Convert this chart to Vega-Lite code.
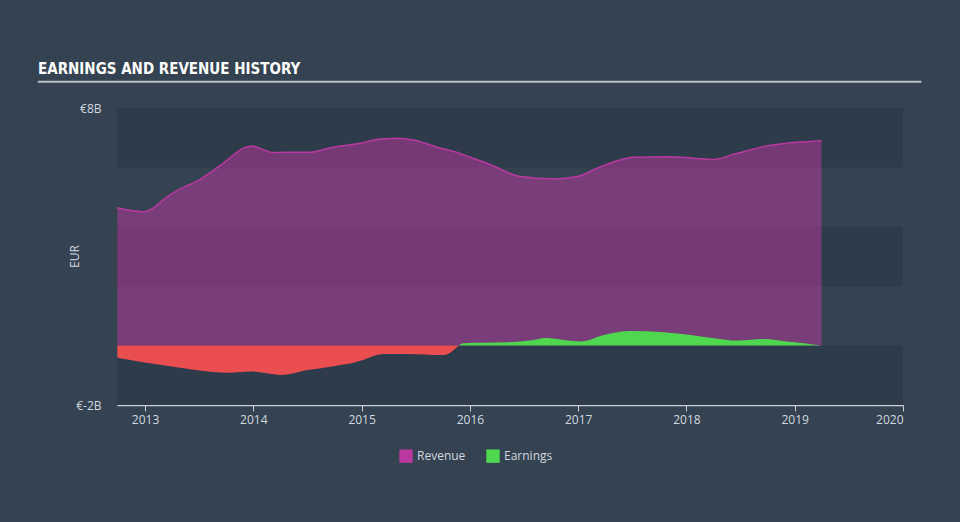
{
  "$schema": "https://vega.github.io/schema/vega-lite/v6.json",
  "width": 786,
  "height": 297,
  "autosize": {"type": "none"},
  "padding": {"left": 117, "top": 108, "right": 57, "bottom": 117},
  "background": "#344252",
  "config": {
    "view": {"stroke": null},
    "font": "Open Sans",
    "axis": {"labelColor": "#d3d8de", "titleColor": "#d3d8de", "labelFontSize": 12, "titleFontSize": 12, "titleFontWeight": "normal", "grid": false}
  },
  "title": {
    "text": "EARNINGS AND REVENUE HISTORY",
    "anchor": "start",
    "frame": "group",
    "dx": -79,
    "offset": -8,
    "baseline": "alphabetic",
    "font": "DejaVu Sans Condensed",
    "fontSize": 15,
    "fontWeight": "bold",
    "color": "#ffffff"
  },
  "datasets": {
    "bands": [
      {"lo": 6, "hi": 8},
      {"lo": 2, "hi": 4},
      {"lo": -2, "hi": 0}
    ],
    "series": [
      {"series": "Revenue", "year": 2012.744, "value": 4.64},
      {"series": "Revenue", "year": 2012.982, "value": 4.51},
      {"series": "Revenue", "year": 2013.046, "value": 4.57},
      {"series": "Revenue", "year": 2013.185, "value": 4.96},
      {"series": "Revenue", "year": 2013.293, "value": 5.22},
      {"series": "Revenue", "year": 2013.509, "value": 5.6},
      {"series": "Revenue", "year": 2013.721, "value": 6.14},
      {"series": "Revenue", "year": 2013.906, "value": 6.64},
      {"series": "Revenue", "year": 2013.987, "value": 6.72},
      {"series": "Revenue", "year": 2014.063, "value": 6.64},
      {"series": "Revenue", "year": 2014.184, "value": 6.5},
      {"series": "Revenue", "year": 2014.31, "value": 6.51},
      {"series": "Revenue", "year": 2014.526, "value": 6.51},
      {"series": "Revenue", "year": 2014.711, "value": 6.66},
      {"series": "Revenue", "year": 2014.988, "value": 6.81},
      {"series": "Revenue", "year": 2015.173, "value": 6.96},
      {"series": "Revenue", "year": 2015.328, "value": 6.98},
      {"series": "Revenue", "year": 2015.478, "value": 6.92},
      {"series": "Revenue", "year": 2015.697, "value": 6.68},
      {"series": "Revenue", "year": 2015.882, "value": 6.5},
      {"series": "Revenue", "year": 2016.005, "value": 6.34},
      {"series": "Revenue", "year": 2016.16, "value": 6.14},
      {"series": "Revenue", "year": 2016.468, "value": 5.69},
      {"series": "Revenue", "year": 2016.773, "value": 5.61},
      {"series": "Revenue", "year": 2016.992, "value": 5.69},
      {"series": "Revenue", "year": 2017.207, "value": 6.02},
      {"series": "Revenue", "year": 2017.513, "value": 6.34},
      {"series": "Revenue", "year": 2017.824, "value": 6.36},
      {"series": "Revenue", "year": 2018.067, "value": 6.31},
      {"series": "Revenue", "year": 2018.252, "value": 6.27},
      {"series": "Revenue", "year": 2018.437, "value": 6.44},
      {"series": "Revenue", "year": 2018.749, "value": 6.73},
      {"series": "Revenue", "year": 2018.992, "value": 6.84},
      {"series": "Revenue", "year": 2019.248, "value": 6.9},
      {"series": "Loss", "year": 2012.744, "value": -0.41},
      {"series": "Loss", "year": 2012.982, "value": -0.56},
      {"series": "Loss", "year": 2013.293, "value": -0.73},
      {"series": "Loss", "year": 2013.601, "value": -0.88},
      {"series": "Loss", "year": 2013.786, "value": -0.91},
      {"series": "Loss", "year": 2013.971, "value": -0.87},
      {"series": "Loss", "year": 2014.063, "value": -0.9},
      {"series": "Loss", "year": 2014.248, "value": -0.99},
      {"series": "Loss", "year": 2014.341, "value": -0.96},
      {"series": "Loss", "year": 2014.464, "value": -0.85},
      {"series": "Loss", "year": 2014.68, "value": -0.73},
      {"series": "Loss", "year": 2014.803, "value": -0.65},
      {"series": "Loss", "year": 2014.896, "value": -0.6},
      {"series": "Loss", "year": 2014.988, "value": -0.51},
      {"series": "Loss", "year": 2015.204, "value": -0.28},
      {"series": "Loss", "year": 2015.42, "value": -0.28},
      {"series": "Loss", "year": 2015.758, "value": -0.32},
      {"series": "Loss", "year": 2015.897, "value": 0},
      {"series": "Earnings", "year": 2015.897, "value": 0},
      {"series": "Earnings", "year": 2015.941, "value": 0.08},
      {"series": "Earnings", "year": 2016.345, "value": 0.11},
      {"series": "Earnings", "year": 2016.53, "value": 0.16},
      {"series": "Earnings", "year": 2016.715, "value": 0.26},
      {"series": "Earnings", "year": 2016.93, "value": 0.16},
      {"series": "Earnings", "year": 2017.023, "value": 0.14},
      {"series": "Earnings", "year": 2017.238, "value": 0.36},
      {"series": "Earnings", "year": 2017.484, "value": 0.49},
      {"series": "Earnings", "year": 2017.79, "value": 0.45},
      {"series": "Earnings", "year": 2018.04, "value": 0.36},
      {"series": "Earnings", "year": 2018.255, "value": 0.25},
      {"series": "Earnings", "year": 2018.472, "value": 0.17},
      {"series": "Earnings", "year": 2018.718, "value": 0.22},
      {"series": "Earnings", "year": 2018.903, "value": 0.15},
      {"series": "Earnings", "year": 2019.087, "value": 0.08},
      {"series": "Earnings", "year": 2019.248, "value": 0.0}
    ]
  },
  "layer": [
    {
      "data": {"name": "bands"},
      "mark": {"type": "rect", "color": "#2e3b4a"},
      "encoding": {
        "y": {"field": "lo", "type": "quantitative", "scale": {"domain": [-2, 8], "nice": false, "zero": false},
              "axis": {"values": [-2, 8], "labelExpr": "'€' + datum.value + 'B'", "ticks": false, "domain": false, "labelPadding": 16, "title": "EUR", "titleAngle": -90, "titleX": -36, "titleY": 148, "titleBaseline": "bottom"}},
        "y2": {"field": "hi"}
      }
    },
    {
      "data": {"name": "series"},
      "transform": [{"filter": "datum.series == 'Revenue'"}],
      "mark": {"type": "area", "interpolate": "monotone", "fillOpacity": 0.53, "line": {"strokeWidth": 1.5}},
      "encoding": {
        "x": {"field": "year", "type": "quantitative", "scale": {"domain": [2012.741, 2020], "nice": false, "zero": false},
              "axis": {"values": [2013, 2014, 2015, 2016, 2017, 2018, 2019, 2020], "format": "d", "title": null, "domainColor": "#c8d0d8", "tickColor": "#c8d0d8", "tickSize": 6, "labelPadding": 3, "domainWidth": 1.5}},
        "y": {"field": "value", "type": "quantitative"},
        "color": {"field": "series", "type": "nominal",
                  "scale": {"domain": ["Revenue", "Earnings"], "range": ["#b8399f", "#4fd84f"]},
                  "legend": {"title": null, "orient": "none", "direction": "horizontal", "legendX": 282, "legendY": 341, "symbolType": "square", "symbolSize": 180, "symbolOpacity": 1, "symbolStrokeWidth": 0, "labelColor": "#d3d8de", "labelFontSize": 12, "columnPadding": 20}}
      }
    },
    {
      "data": {"name": "series"},
      "transform": [{"filter": "datum.series == 'Loss'"}],
      "mark": {"type": "area", "interpolate": "monotone", "color": "#ea4e51"},
      "encoding": {
        "x": {"field": "year", "type": "quantitative"},
        "y": {"field": "value", "type": "quantitative"}
      }
    },
    {
      "data": {"name": "series"},
      "transform": [{"filter": "datum.series == 'Earnings'"}],
      "mark": {"type": "area", "interpolate": "monotone"},
      "encoding": {
        "x": {"field": "year", "type": "quantitative"},
        "y": {"field": "value", "type": "quantitative"},
        "color": {"field": "series", "type": "nominal"}
      }
    },
    {
      "mark": {"type": "rule", "color": "#d8dde3", "opacity": 0.6, "strokeWidth": 1.5},
      "encoding": {"y": {"datum": 0}}
    },
    {
      "data": {"values": [{}]},
      "mark": {"type": "rule", "color": "#b9bfc6", "strokeWidth": 2, "clip": false},
      "encoding": {
        "x": {"datum": 2012.01, "type": "quantitative"},
        "x2": {"datum": 2020.17},
        "y": {"datum": 8.88, "type": "quantitative"}
      }
    }
  ]
}
